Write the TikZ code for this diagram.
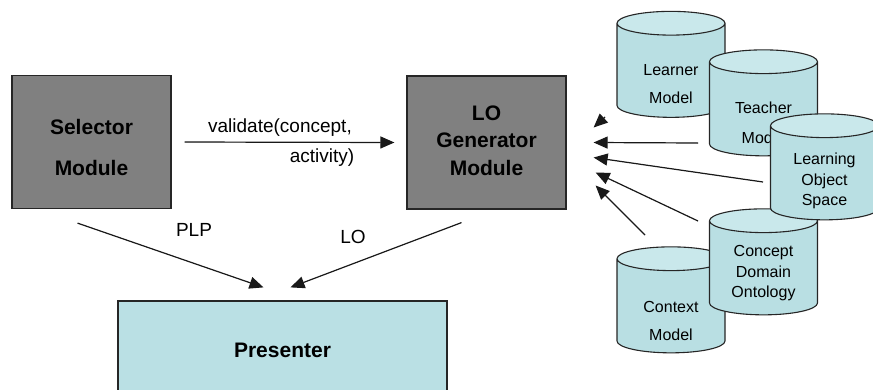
\documentclass[tikz,border=0pt]{standalone}
\usepackage{fontspec}
\setmainfont{Liberation Sans}
\usetikzlibrary{shapes.geometric,arrows.meta}

\definecolor{modgray}{RGB}{128,128,128}
\definecolor{storebody}{RGB}{185,223,227}
\definecolor{storetop}{RGB}{201,232,235}
\definecolor{presfill}{RGB}{186,224,228}

\tikzset{
    module/.style={rectangle,draw=black!85,line width=1.2pt,fill=modgray,
        minimum width=159,minimum height=133},
    bold/.style={align=center,inner sep=0pt},
    store/.style={cylinder,shape border rotate=90,draw=black!85,line width=1.1pt,
        aspect=0.22,cylinder uses custom fill,cylinder body fill=storebody,
        cylinder end fill=storetop,minimum width=108,minimum height=106,
        inner xsep=54pt,inner ysep=0pt},
    storetxt/.style={align=center,inner sep=0pt},
    msg/.style={-{Triangle[length=14pt,width=12pt]},line width=1.2pt,draw=black!90,fill=black!90},
    tag/.style={font=\fontsize{19}{30}\selectfont}
}

\begin{document}
\begin{tikzpicture}[x=1pt,y=-1pt]
    \useasboundingbox (0,0) rectangle (873,389);

    %MODULES
    \node[module] (sel) at (91.5,142) {};
    \node[bold,font=\fontsize{21}{41}\selectfont\bfseries] (seltxt) at (91.5,147.5) {Selector\\Module};
    \node[module] (gen) at (486.5,142.5) {};
    \node[bold,font=\fontsize{21}{27.5}\selectfont\bfseries] (gentxt) at (486.5,140.5) {LO\\Generator\\Module};
    \node[module,fill=presfill,minimum width=329,minimum height=100] (pres) at (282.5,351) {};
    \node[bold,font=\fontsize{21}{27}\selectfont\bfseries] (prestxt) at (282.5,350) {Presenter};

    %STORES
    \node[store] (learner) at (671,76.5) {};
    \node[storetxt,font=\fontsize{16}{28}\selectfont] (learnertxt) at (671,84) {Learner\\Model};
    \node[store] (teacher) at (763.5,115) {};
    \node[storetxt,font=\fontsize{16}{30}\selectfont] (teachertxt) at (763.5,123) {Teacher\\Model};
    \node[store] (context) at (671,312) {};
    \node[storetxt,font=\fontsize{16}{28}\selectfont] (contexttxt) at (671,321) {Context\\Model};
    \node[store] (concept) at (763.5,274) {};
    \node[storetxt,font=\fontsize{16}{20.5}\selectfont] (concepttxt) at (763.5,273.5) {Concept\\Domain\\Ontology};
    \node[store] (los) at (824.5,179) {};
    \node[storetxt,font=\fontsize{16}{20.5}\selectfont] (lostxt) at (824.5,181) {Learning\\Object\\Space};

    %EDGES
    \draw[msg] (sel.east) ++(13,0) -- ([xshift=-12]gen.west);
    \node[tag] (val1) at (280,128) {validate(concept,};
    \node[tag] (val2) at (322,158) {activity)};

    \draw[msg] ([shift={(-14,14)}]sel.south) -- ([shift={(-19,-13)}]pres.north);
    \node[tag] (plp) at (194,230) {PLP};
    \draw[msg] ([shift={(-25,13)}]gen.south) -- ([shift={(8,-13)}]pres.north);
    \node[tag] (lo) at (353,237) {LO};

    \draw[msg] ([shift={(-66,40.5)}]learner.center) -- ([shift={(27,-15)}]gen.east);
    \draw[msg] ([shift={(-65.5,28)}]teacher.center) -- ([shift={(27,0)}]gen.east);
    \draw[msg] ([shift={(-61.5,3)}]los.center) -- ([shift={(27,15)}]gen.east);
    \draw[msg] ([shift={(-65.5,-53)}]concept.center) -- ([shift={(29,30)}]gen.east);
    \draw[msg] ([shift={(-26,-77)}]context.center) -- ([shift={(29,43)}]gen.east);
\end{tikzpicture}
\end{document}
